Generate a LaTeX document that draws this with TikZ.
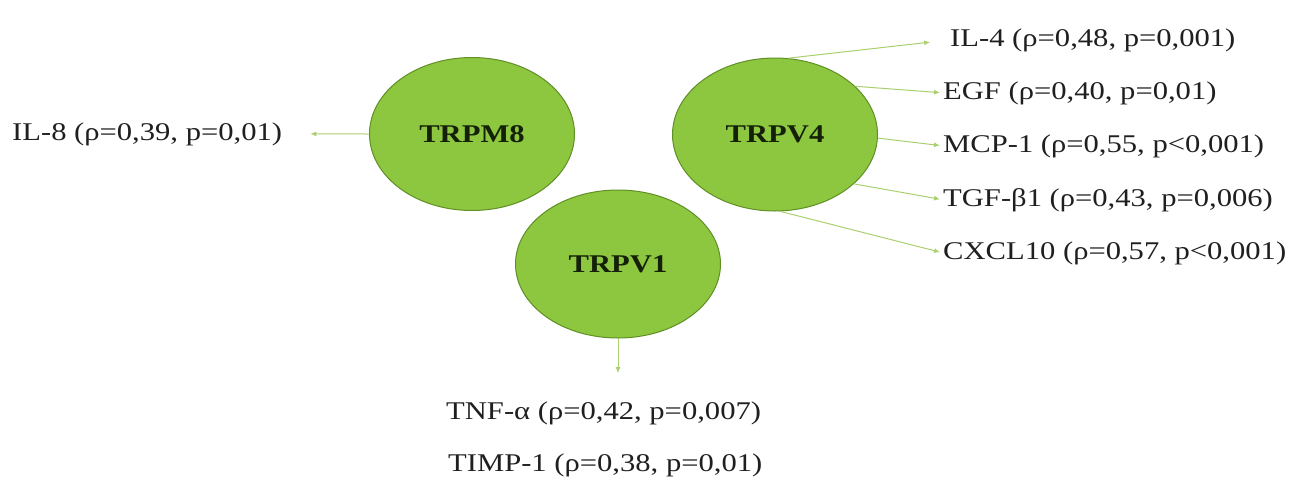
\documentclass[tikz,border=0pt]{standalone}
\usepackage{fontspec}
\usepackage{graphicx}
\setmainfont{Liberation Serif}
\usetikzlibrary{shapes.geometric,arrows.meta}
\definecolor{blobfill}{HTML}{8DC63F}
\definecolor{blobline}{HTML}{5F8F25}
\definecolor{arrowgreen}{HTML}{A9CF6E}
\definecolor{labeltext}{HTML}{1F1F1F}
\definecolor{blobtext}{HTML}{142008}
\newcommand\widetext[1]{\scalebox{1.2}[1]{#1}}
\begin{document}
\begin{tikzpicture}[x=1pt,y=-1pt,
  blob/.style={ellipse, fill=blobfill, draw=blobline, line width=1pt, inner sep=0pt,
    minimum width=205pt, minimum height=153pt, text=blobtext,
    font=\fontsize{25.5}{30}\selectfont\bfseries},
  lbl/.style={inner sep=0pt, anchor=base west, text=labeltext,
    font=\fontsize{25.5}{30}\selectfont},
  conn/.style={draw=arrowgreen, line width=1pt, -{Latex[length=6pt,width=5pt]}}
]
\useasboundingbox (0,0) rectangle (1291,483);

\node[blob] (m8) at (472,134) {\widetext{TRPM8}};
\node[blob] (v4) at (775,134.5) {\widetext{TRPV4}};
\node[blob, minimum height=148pt] (v1) at (618,264) {\widetext{TRPV1}};

\node[lbl] (il8) at (12,140) {\widetext{IL-8 (ρ=0,39, p=0,01)}};
\node[lbl] (il4) at (950,46) {\widetext{IL-4 (ρ=0,48, p=0,001)}};
\node[lbl] (egf) at (943,99) {\widetext{EGF (ρ=0,40, p=0,01)}};
\node[lbl] (mcp) at (943,152) {\widetext{MCP-1 (ρ=0,55, p<0,001)}};
\node[lbl] (tgf) at (943,206) {\widetext{TGF-β1 (ρ=0,43, p=0,006)}};
\node[lbl] (cxcl) at (943,259) {\widetext{CXCL10 (ρ=0,57, p<0,001)}};
\node[lbl] (tnf) at (446,419) {\widetext{TNF-α (ρ=0,42, p=0,007)}};
\node[lbl] (timp) at (448,471) {\widetext{TIMP-1 (ρ=0,38, p=0,01)}};

\draw[conn, shorten >=28pt] (m8.west) -- (il8.east);
\draw[conn, shorten >=28pt] (v1.south) -- (v1.south |- tnf.north);
\draw[conn, shorten >=20pt] (v4.80) -- (il4.west);
\draw[conn, shorten >=3pt] (v4.31) -- (egf.west);
\draw[conn, shorten >=3pt] (v4.-2) -- (mcp.west);
\draw[conn, shorten >=3pt] (v4.-32) -- (tgf.west);
\draw[conn, shorten >=3pt] (v4.-86) -- (cxcl.west);
\end{tikzpicture}
\end{document}
